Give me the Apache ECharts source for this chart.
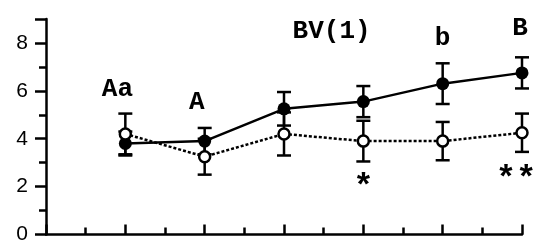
<!DOCTYPE html>
<html>
<head>
<meta charset="utf-8">
<script src="https://cdn.jsdelivr.net/npm/echarts@6/dist/echarts.min.js"></script>
<style>
  html, body { margin: 0; padding: 0; background: #fff; }
  #main { width: 535px; height: 245px; }
</style>
</head>
<body>
<div id="main"></div>
<script>
// data
var weeks = [2, 4, 6, 8, 10, 12];
var filledMean = [3.8, 3.9, 5.25, 5.55, 6.3, 6.75];
var filledErr = [0.5, 0.55, 0.7, 0.65, 0.85, 0.65];
var openMean = [4.2, 3.25, 4.2, 3.9, 3.9, 4.25];
var openErr = [0.85, 0.75, 0.9, 0.85, 0.8, 0.8];

// annotation texts and where they sit (data units)
var noteText = ['Aa', 'A', 'BV(1)', 'b', 'B'];
var noteX = [1.8, 3.8, 7.2, 10.0, 11.95];
var noteY = [6.05, 5.5, 8.5, 8.2, 8.6];
var starText = ['*', '**'];
var starX = [8.0, 11.85];
var starY = [1.95, 2.3];

var myChart = echarts.init(document.getElementById('main'));

function pairs(xs, ys) {
    return xs.map(function (x, i) { return [x, ys[i]]; });
}
function errData(xs, m, e) {
    return xs.map(function (x, i) { return [x, m[i] - e[i], m[i] + e[i]]; });
}
function named(txt, xs, ys) {
    return txt.map(function (t, i) { return { value: [xs[i], ys[i]], name: t }; });
}

function renderErr(params, api) {
    var lo = api.coord([api.value(0), api.value(1)]);
    var hi = api.coord([api.value(0), api.value(2)]);
    var w = 7;
    var st = { stroke: '#000', lineWidth: 2.5 };
    return {
        type: 'group',
        children: [
            { type: 'line', shape: { x1: lo[0], y1: lo[1], x2: hi[0], y2: hi[1] }, style: st },
            { type: 'line', shape: { x1: lo[0] - w, y1: lo[1], x2: lo[0] + w, y2: lo[1] }, style: st },
            { type: 'line', shape: { x1: hi[0] - w, y1: hi[1], x2: hi[0] + w, y2: hi[1] }, style: st }
        ]
    };
}

var textLabel = {
    show: true,
    position: 'inside',
    formatter: '{b}',
    color: '#000',
    opacity: 1,
    fontSize: 26,
    fontWeight: 'bold',
    fontFamily: 'Liberation Mono'
};

myChart.setOption({
    animation: false,
    grid: { left: 46, right: 13, top: 19, bottom: 10 },
    xAxis: {
        type: 'value',
        min: 0,
        max: 12,
        interval: 2,
        axisLine: { lineStyle: { color: '#000', width: 2.5 } },
        axisTick: { inside: true, length: 10, lineStyle: { color: '#000', width: 2.5 } },
        minorTick: { show: true, splitNumber: 2, length: 7, lineStyle: { color: '#000', width: 2.5 } },
        axisLabel: { show: false },
        splitLine: { show: false }
    },
    yAxis: {
        type: 'value',
        min: 0,
        max: 9,
        interval: 2,
        axisLine: { show: true, lineStyle: { color: '#000', width: 2.5 } },
        axisTick: { length: 11, lineStyle: { color: '#000', width: 2.5 } },
        minorTick: { show: true, splitNumber: 2, length: 7, lineStyle: { color: '#000', width: 2.5 } },
        axisLabel: {
            margin: 18,
            color: '#000',
            fontSize: 21,
            fontFamily: 'Liberation Sans',
            formatter: function (v) { return v % 2 === 0 ? String(v) : ''; }
        },
        splitLine: { show: false }
    },
    series: [
        {
            type: 'custom',
            data: errData(weeks, filledMean, filledErr),
            renderItem: renderErr,
            z: 1
        },
        {
            type: 'custom',
            data: errData(weeks, openMean, openErr),
            renderItem: renderErr,
            z: 1
        },
        {
            type: 'line',
            data: pairs(weeks, filledMean),
            symbol: 'circle',
            symbolSize: 13,
            lineStyle: { color: '#000', width: 2.5 },
            itemStyle: { color: '#000' },
            z: 2
        },
        {
            type: 'line',
            data: pairs(weeks, openMean),
            symbol: 'circle',
            symbolSize: 11,
            showAllSymbol: true,
            lineStyle: { color: '#000', width: 2.5, type: [3, 2] },
            itemStyle: { color: '#fff', borderColor: '#000', borderWidth: 2.5 },
            z: 3
        },
        {
            type: 'scatter',
            data: named(noteText, noteX, noteY),
            symbolSize: 0,
            itemStyle: { opacity: 1 },
            label: textLabel,
            z: 4
        },
        {
            type: 'scatter',
            data: named(starText, starX, starY),
            symbolSize: 0,
            itemStyle: { opacity: 1 },
            label: Object.assign({}, textLabel, { fontSize: 34 }),
            z: 4
        }
    ]
});
</script>
</body>
</html>
